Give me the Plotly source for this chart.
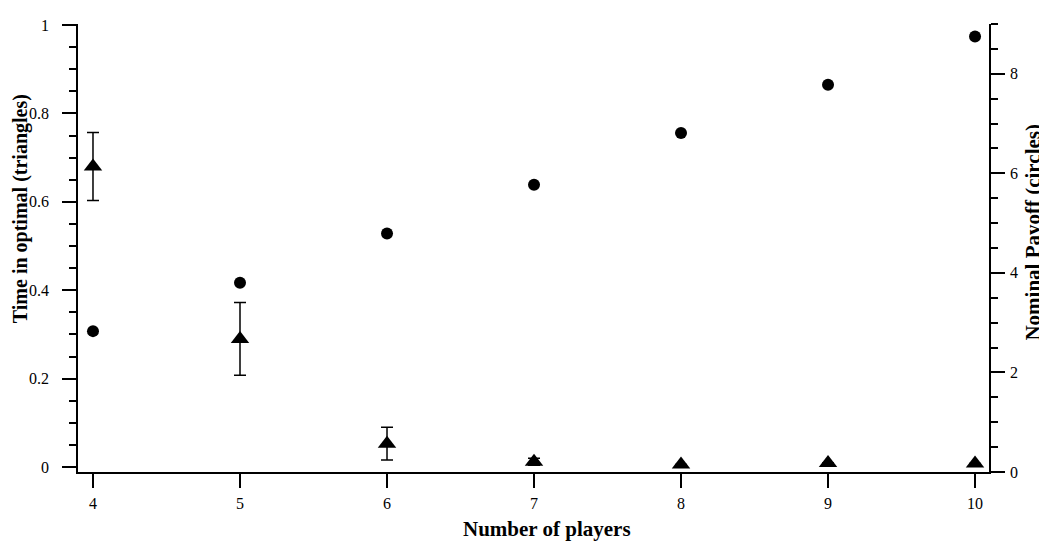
import plotly.graph_objects as go

players = [4, 5, 6, 7, 8, 9, 10]
time_optimal = [0.68, 0.29, 0.053, 0.012, 0.006, 0.009, 0.008]
time_err = [0.077, 0.082, 0.037, 0.008, 0, 0, 0]
payoff = [2.83, 3.80, 4.79, 5.77, 6.81, 7.78, 8.75]

x_title = "Number of players"
y_title = "Time in optimal (triangles)"
y2_title = "Nominal Payoff (circles)"

FONT = "Liberation Serif, Times New Roman, serif"

fig = go.Figure()
fig.add_trace(go.Scatter(
    x=players, y=payoff, mode="markers", yaxis="y2",
    marker=dict(symbol="circle", size=12, color="black"),
    showlegend=False,
))
fig.add_trace(go.Scatter(
    x=players, y=time_optimal, mode="markers", yaxis="y",
    marker=dict(symbol="triangle-up", size=16, color="black"),
    error_y=dict(type="data", array=time_err, visible=True,
                 color="black", thickness=1.5, width=6),
    showlegend=False,
))

axis_common = dict(
    showline=True, linecolor="black", linewidth=1.5,
    ticks="outside", ticklen=14, tickwidth=1.5, tickcolor="black",
    showgrid=False, zeroline=False,
    tickfont=dict(family=FONT, size=16, color="black"),
)

fig.update_layout(
    width=1039, height=537,
    margin=dict(l=70, r=58, t=9, b=73),
    paper_bgcolor="white", plot_bgcolor="white",
    font=dict(family=FONT, color="black"),
    xaxis=dict(range=[3.898, 10.095], tickvals=players, **axis_common,
               ticklabelstandoff=2),
    yaxis=dict(range=[-0.0111, 1.0022], tickvals=[0, 0.2, 0.4, 0.6, 0.8, 1],
               ticktext=["0", "0.2", "0.4", "0.6", "0.8", "1"],
               minor=dict(dtick=0.05, ticklen=7, tickwidth=1.5,
                          tickcolor="black", ticks="outside"),
               ticklabelstandoff=10,
               **axis_common),
    yaxis2=dict(range=[0, 9], overlaying="y", side="right",
                tickvals=[0, 2, 4, 6, 8],
                minor=dict(dtick=0.5, ticklen=7, tickwidth=1.5,
                           tickcolor="black", ticks="outside"),
                ticklabelstandoff=2,
                **axis_common),
    annotations=[
        dict(text="<b>%s</b>" % x_title, xref="paper", yref="paper",
             x=0.515, y=-0.127, xanchor="center", yanchor="middle",
             showarrow=False, font=dict(family=FONT, size=21, color="black")),
        dict(text="<b>%s</b>" % y_title, xref="paper", yref="paper",
             x=-0.0635, y=0.587, xanchor="center", yanchor="middle",
             textangle=-90, showarrow=False,
             font=dict(family=FONT, size=20, color="black")),
        dict(text="<b>%s</b>" % y2_title, xref="paper", yref="paper",
             x=1.048, y=0.536, xanchor="center", yanchor="middle",
             textangle=-90, showarrow=False,
             font=dict(family=FONT, size=21, color="black")),
    ],
)

fig.write_html("out.html")
